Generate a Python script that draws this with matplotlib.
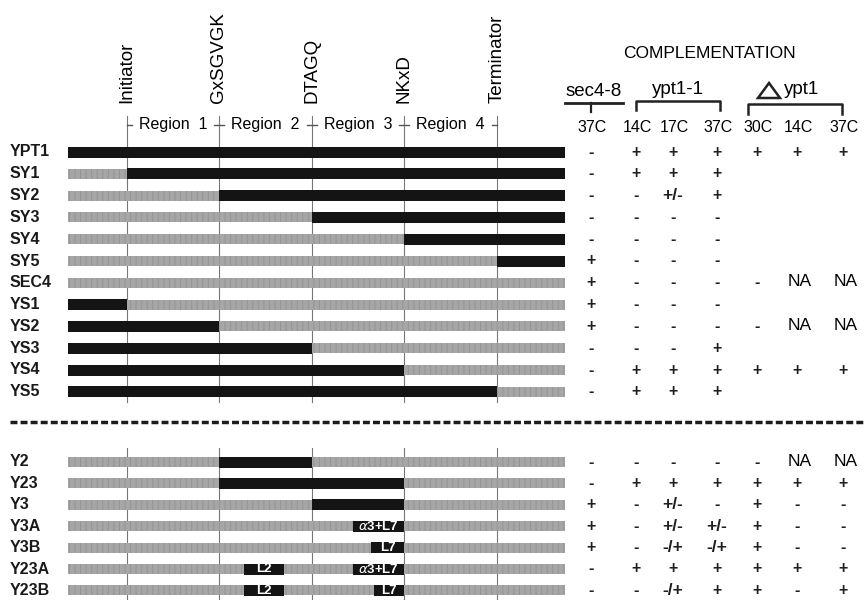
import matplotlib
matplotlib.use("Agg")
import matplotlib.pyplot as plt
from matplotlib.patches import Polygon

plt.rcParams["font.family"] = ["Liberation Sans", "DejaVu Sans"]
plt.rcParams["hatch.linewidth"] = 0.7

# landmarks along the YPT1/SEC4 constructs (x)
SITES = ["Initiator", "GxSGVGK", "DTAGQ", "NKxD", "Terminator"]
SITE_X = [127, 219, 312, 404, 497]
BAR_START = 68
BAR_END = 565
REGIONS = ["Region  1", "Region  2", "Region  3", "Region  4"]
BOUNDS = [BAR_START] + SITE_X + [BAR_END]   # index 0..6

# upper block: chimeras, black = YPT1 sequence, grey = SEC4 sequence
UPPER_ROWS = ["YPT1", "SY1", "SY2", "SY3", "SY4", "SY5",
              "SEC4", "YS1", "YS2", "YS3", "YS4", "YS5"]
UPPER_BLACK = [(0, 6), (1, 6), (2, 6), (3, 6), (4, 6), (5, 6),
               None, (0, 1), (0, 2), (0, 3), (0, 4), (0, 5)]

# lower block: SEC4 with YPT1 pieces inserted
LOWER_ROWS = ["Y2", "Y23", "Y3", "Y3A", "Y3B", "Y23A", "Y23B"]
LOWER_BLACK = [
    [(SITE_X[1], SITE_X[2], "")],
    [(SITE_X[1], SITE_X[3], "")],
    [(SITE_X[2], SITE_X[3], "")],
    [(353, SITE_X[3], r"$\alpha$3+L7")],
    [(371, SITE_X[3], "L7")],
    [(244, 284, "L2"), (353, SITE_X[3], r"$\alpha$3+L7")],
    [(244, 284, "L2"), (374, SITE_X[3], "L7")],
]

TEMPS = ["37C", "14C", "17C", "37C", "30C", "14C", "37C"]
UPPER_TABLE = [
    ["-", "+", "+", "+", "+", "+", "+"],
    ["-", "+", "+", "+", "", "", ""],
    ["-", "-", "+/-", "+", "", "", ""],
    ["-", "-", "-", "-", "", "", ""],
    ["-", "-", "-", "-", "", "", ""],
    ["+", "-", "-", "-", "", "", ""],
    ["+", "-", "-", "-", "-", "NA", "NA"],
    ["+", "-", "-", "-", "", "", ""],
    ["+", "-", "-", "-", "-", "NA", "NA"],
    ["-", "-", "-", "+", "", "", ""],
    ["-", "+", "+", "+", "+", "+", "+"],
    ["-", "+", "+", "+", "", "", ""],
]
LOWER_TABLE = [
    ["-", "-", "-", "-", "-", "NA", "NA"],
    ["-", "+", "+", "+", "+", "+", "+"],
    ["+", "-", "+/-", "-", "+", "-", "-"],
    ["+", "-", "+/-", "+/-", "+", "-", "-"],
    ["+", "-", "-/+", "-/+", "+", "-", "-"],
    ["-", "+", "+", "+", "+", "+", "+"],
    ["-", "-", "-/+", "+", "+", "-", "+"],
]

COL_X = [591, 636, 673, 717, 757, 797, 843]
UPPER_Y0, LOWER_Y0, ROW_STEP, LOWER_STEP = 152, 462, 21.8, 21.4

BLACK = "#141414"
GREY = "#a6a6a6"
GREY_TEX = "#959595"


def draw_bar_row(ax, y, spans):
    ax.barh(y, BAR_END - BAR_START, left=BAR_START, height=10,
            color=GREY, edgecolor=GREY_TEX, hatch="|||", linewidth=0,
            zorder=2)
    for x0, x1, lab in spans:
        ax.barh(y, x1 - x0, left=x0, height=11, color=BLACK, zorder=3)
        if lab:
            ax.text((x0 + x1) / 2, y + 0.5, lab, color="white", fontsize=9.5,
                    fontweight="bold", ha="center", va="center", zorder=4)


def draw_table_row(ax, y, vals):
    for x, v in zip(COL_X, vals):
        if not v:
            continue
        if v == "NA":
            ax.text(x + 3, y - 1, v, fontsize=12.5, ha="center", va="center")
        elif "/" in v:
            ax.text(x, y, v, fontsize=12.5, fontweight="bold",
                    ha="center", va="center", color="#202020")
        else:
            ax.text(x, y, v, fontsize=11.5, fontweight="bold",
                    ha="center", va="center", color="#202020")


fig = plt.figure(figsize=(8.65, 6), dpi=100)
ax = fig.add_axes([0, 0, 1, 1])
ax.set_xlim(0, 865)
ax.set_ylim(600, 0)
ax.axis("off")

# landmark labels and region line
for name, x in zip(SITES, SITE_X):
    ax.text(x, 103, name, rotation=90, fontsize=13.5, ha="center", va="bottom")
for i, name in enumerate(REGIONS):
    ax.text((SITE_X[i] + SITE_X[i + 1]) / 2, 125, name, fontsize=11.5,
            ha="center", va="center")
for i, x in enumerate(SITE_X):
    left = 0 if i == 0 else 5
    right = 0 if i == len(SITE_X) - 1 else 5
    ax.plot([x - left, x + right], [125, 125], color="#555555", lw=1)
    ax.plot([x, x], [116, 402], color="#777777", lw=0.8, zorder=1)
    ax.plot([x, x], [448, 600], color="#777777", lw=0.8, zorder=1)

# bars
for i, (name, blk) in enumerate(zip(UPPER_ROWS, UPPER_BLACK)):
    y = UPPER_Y0 + i * ROW_STEP
    spans = [] if blk is None else [(BOUNDS[blk[0]], BOUNDS[blk[1]], "")]
    ax.text(10, y, name, fontsize=11.5, fontweight="bold", ha="left",
            va="center", color="#1a1a1a")
    draw_bar_row(ax, y, spans)
    draw_table_row(ax, y, UPPER_TABLE[i])

for i, (name, spans) in enumerate(zip(LOWER_ROWS, LOWER_BLACK)):
    y = LOWER_Y0 + i * LOWER_STEP
    ax.text(10, y, name, fontsize=11.5, fontweight="bold", ha="left",
            va="center", color="#1a1a1a")
    draw_bar_row(ax, y, spans)
    draw_table_row(ax, y, LOWER_TABLE[i])

ax.plot([10, 865], [422, 422], color="#1c1c1c", lw=2.5, dashes=(2.0, 0.9),
        solid_capstyle="butt", dash_capstyle="butt")

# complementation header
ax.text(709, 53, "COMPLEMENTATION", fontsize=12.5, ha="center", va="center")
ax.text(594, 91, "sec4-8", fontsize=13.5, ha="center", va="center")
ax.plot([565, 623], [103, 103], color="#222222", lw=2)
ax.plot([591, 591], [103, 112], color="#222222", lw=1.6)
ax.text(678, 89, "ypt1-1", fontsize=13.5, ha="center", va="center")
ax.plot([636, 636, 720, 720], [110, 101, 101, 110], color="#222222", lw=1.8)
ax.add_patch(Polygon([[758, 98], [780, 98], [769, 83]], closed=True,
                     fill=False, edgecolor="#222222", lw=1.8,
                     joinstyle="miter"))
ax.text(802, 90, "ypt1", fontsize=13.5, ha="center", va="center")
ax.plot([748, 748, 842, 842], [114, 104, 104, 114], color="#222222", lw=1.8)
for x, t in zip(COL_X, TEMPS):
    ax.text(x + 1, 128, t, fontsize=11.5, ha="center", va="center")

fig.savefig("out.png", dpi=100)
plt.close()
